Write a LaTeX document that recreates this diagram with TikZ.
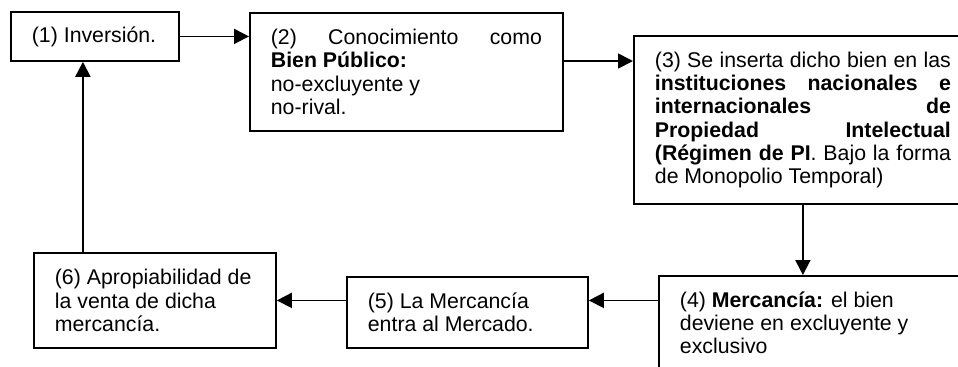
\documentclass[tikz,border=0pt]{standalone}
\usepackage{fontspec}
\setmainfont{Liberation Sans}
\usepackage{tikz}
\usetikzlibrary{arrows.meta}
\usetikzlibrary{positioning}

\begin{document}
\begin{tikzpicture}[x=0.5pt,y=-0.5pt,->,>={Triangle[length=7.5pt,width=7.5pt]},
  line width=0.9pt,
  box/.style={draw,rectangle,anchor=north west,inner xsep=10.5pt,inner ysep=2pt,
    align=justify,font=\fontsize{10.65pt}{11.6pt}\selectfont}]

  \useasboundingbox (0,0) rectangle (958,366);
  \clip (0,0) rectangle (958,366);

  % upper row
  \node[box,text width=63pt,minimum height=24.5pt] (inv) at (10,11) {(1) Inversión.};
  \node[box,text width=135.5pt,minimum height=59pt] (conoc) at (249,12)
    {(2) Conocimiento como\linebreak \textbf{Bien Público:}\\no-excluyente y\\no-rival.\par\vspace{4pt}};
  \node[box,text width=148pt,minimum height=84pt] (emb) at (633,35)
    {(3) Se inserta dicho bien en las\linebreak
     \textbf{instituciones nacionales e}\linebreak
     \textbf{internacionales de}\linebreak
     \textbf{Propiedad Intelectual}\linebreak
     \textbf{(Régimen de PI}. Bajo la forma\linebreak
     de Monopolio Temporal)};

  % lower row
  \node[box,text width=145pt,minimum height=47pt] (merc) at (658,275)
    {(4) \textbf{Mercancía:} el bien\\deviene en excluyente y\\exclusivo};
  \node[box,text width=99.5pt,minimum height=35.5pt] (entra) at (346,276)
    {(5) La Mercancía\\entra al Mercado.};
  \node[box,text width=100pt,minimum height=47.5pt] (apro) at (33,252)
    {(6) Apropiabilidad de\\la venta de dicha\\mercancía.};

  \coordinate (c23) at ([yshift=-24.5pt]conoc.north east);
  \coordinate (c61) at ([xshift=-6pt]inv.south);

  \path
    (inv.east) edge (inv.east -| conoc.west)
    (c23) edge (c23 -| emb.west)
    (emb.south) edge (emb.south |- merc.north)
    (merc.west |- apro.east) edge (entra.east |- apro.east)
    (entra.west |- apro.east) edge (apro.east)
    (c61 |- apro.north) edge (c61);
\end{tikzpicture}
\end{document}
